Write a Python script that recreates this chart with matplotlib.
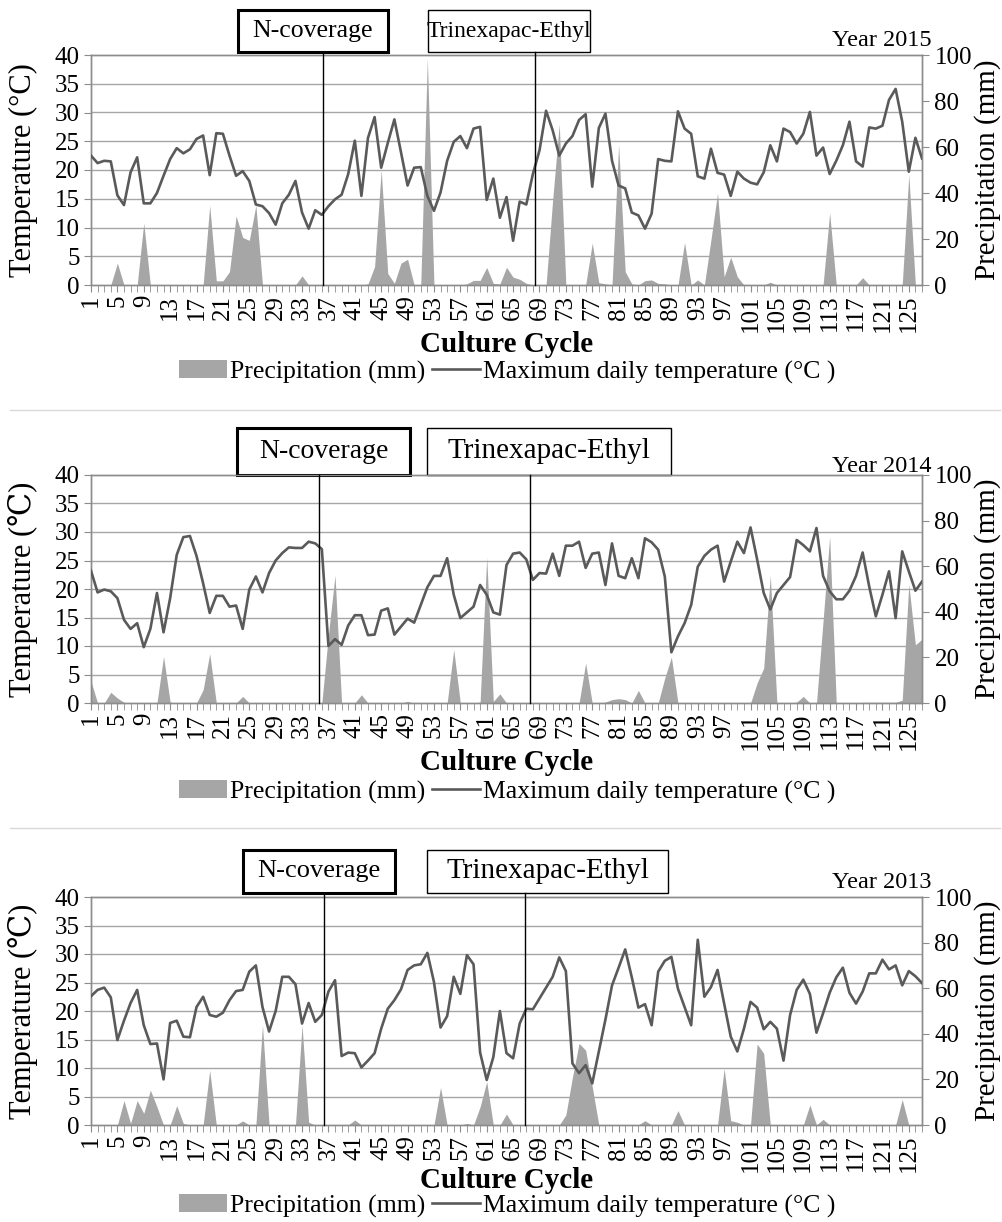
import matplotlib
matplotlib.use("Agg")
import matplotlib.pyplot as plt
import numpy as np
from matplotlib.lines import Line2D
from matplotlib.patches import Patch, Rectangle
from matplotlib.transforms import blended_transform_factory

plt.rcParams["font.family"] = ["Liberation Serif", "DejaVu Serif"]

DAYS = np.arange(1, 128)

# maximum daily temperature (degC), one value per day of the cycle
TEMP_2015 = [22.5, 21.2, 21.6, 21.5, 15.6, 13.9, 19.6, 22.2, 14.2, 14.2,
             16.0, 19.0, 21.9, 23.8, 22.9, 23.6, 25.4, 26.0, 19.1, 26.4,
             26.3, 22.5, 19.0, 19.8, 18.1, 14.0, 13.7, 12.5, 10.5, 14.2,
             15.7, 18.1, 12.6, 9.8, 13.0, 12.2, 13.7, 14.9, 15.7, 19.3,
             25.1, 15.5, 25.6, 29.2, 20.4, 24.7, 28.8, 23.1, 17.3, 20.4,
             20.5, 15.5, 12.9, 16.1, 21.6, 24.9, 25.9, 23.8, 27.2, 27.5,
             14.8, 18.5, 11.7, 15.3, 7.7, 14.5, 14.0, 19.3, 23.4, 30.3,
             26.9, 22.5, 24.6, 25.9, 28.7, 29.7, 17.1, 27.3, 29.8, 21.6,
             17.3, 16.8, 12.6, 12.1, 9.8, 12.4, 21.9, 21.6, 21.5, 30.2,
             27.2, 26.3, 18.9, 18.5, 23.7, 19.5, 19.2, 15.5, 19.7, 18.5,
             17.8, 17.5, 19.6, 24.3, 21.5, 27.2, 26.6, 24.6, 26.3, 30.1,
             22.5, 23.9, 19.3, 21.6, 24.3, 28.4, 21.5, 20.6, 27.4, 27.2,
             27.7, 32.2, 34.1, 28.4, 19.7, 25.6, 22.0]
TEMP_2014 = [23.2, 19.4, 19.9, 19.6, 18.4, 14.6, 13.0, 14.0, 9.8, 13.0,
             19.3, 12.4, 18.4, 26.0, 29.1, 29.3, 25.8, 21.0, 15.8, 18.8,
             18.8, 16.9, 17.1, 13.0, 19.9, 22.2, 19.4, 22.8, 25.0, 26.3,
             27.3, 27.2, 27.2, 28.3, 28.0, 27.0, 10.0, 11.2, 10.2, 13.6,
             15.4, 15.4, 11.9, 12.0, 16.2, 16.6, 12.0, 13.4, 14.8, 14.1,
             17.2, 20.3, 22.3, 22.3, 25.4, 19.0, 14.9, 15.9, 16.9, 20.7,
             19.0, 15.9, 15.5, 24.2, 26.2, 26.4, 25.2, 21.6, 22.8, 22.7,
             26.2, 22.3, 27.6, 27.6, 28.3, 23.7, 26.2, 26.4, 20.7, 28.0,
             22.3, 21.9, 25.4, 21.9, 28.9, 28.2, 26.9, 22.2, 8.9, 11.7,
             14.0, 17.2, 23.9, 25.8, 26.9, 27.6, 21.3, 24.8, 28.3, 26.3,
             30.8, 25.2, 19.3, 16.4, 19.3, 20.7, 22.1, 28.6, 27.7, 26.6,
             30.7, 22.3, 19.6, 18.2, 18.2, 19.7, 22.3, 26.4, 20.4, 15.2,
             19.0, 23.1, 14.9, 26.6, 23.1, 19.7, 21.3]
TEMP_2013 = [22.6, 23.7, 24.1, 22.4, 14.9, 18.3, 21.4, 23.7, 17.5, 14.2,
             14.3, 8.0, 17.9, 18.3, 15.5, 15.4, 20.7, 22.5, 19.3, 19.0,
             19.7, 21.9, 23.5, 23.7, 26.9, 28.0, 20.7, 16.4, 20.0, 26.0,
             26.0, 24.7, 17.8, 21.4, 18.1, 19.3, 23.4, 25.4, 12.1, 12.7,
             12.6, 10.1, 11.3, 12.6, 16.9, 20.4, 21.9, 23.8, 27.2, 28.0,
             28.2, 30.2, 25.1, 17.1, 19.1, 26.0, 23.0, 29.8, 28.2, 12.7,
             7.9, 11.9, 20.0, 12.6, 11.7, 17.8, 20.4, 20.3, 22.2, 24.1,
             26.0, 29.4, 27.0, 10.8, 9.1, 10.5, 7.3, 12.9, 18.5, 24.5,
             27.6, 30.8, 25.9, 20.6, 21.2, 17.5, 26.9, 28.8, 29.5, 23.9,
             20.7, 17.5, 32.5, 22.5, 24.2, 27.2, 21.3, 15.5, 12.9, 16.9,
             21.6, 20.6, 16.8, 18.1, 16.9, 11.3, 19.3, 23.7, 25.5, 23.0,
             16.2, 19.6, 23.2, 25.9, 27.6, 23.2, 21.3, 23.4, 26.6, 26.6,
             29.0, 27.3, 28.0, 24.5, 27.0, 26.1, 24.9]

# daily precipitation (mm)
RAIN_2015 = [0, 0, 0, 0, 9.5, 0, 0, 0, 27, 0,
             0, 0, 0, 0, 0, 0, 0, 0, 34.6, 1.8,
             1.8, 5.8, 30, 20.7, 19.4, 34.6, 0, 0, 0, 0,
             0, 0, 4, 0, 0, 0, 0, 0, 0, 0,
             0, 0, 0.5, 8, 50, 5, 0.7, 9.5, 11.2, 0,
             0, 98.5, 0, 0, 0, 0, 0, 0.5, 2, 2,
             7.6, 0.7, 0.5, 7.7, 3.4, 2.5, 0.7, 0, 0, 0,
             37, 70, 0, 0, 0, 0, 18.2, 1, 0.5, 0,
             61, 5.8, 0.5, 0, 1.9, 2.2, 0.7, 0.5, 0, 0,
             18.5, 0, 2.2, 0, 19.7, 40, 3.6, 12.1, 3.6, 0,
             0, 0, 0, 1.2, 0, 0, 0, 0, 0, 0,
             0, 0, 31.4, 0, 0, 0, 0, 3.2, 0, 0,
             0, 0, 0, 0, 48, 0, 0]
RAIN_2014 = [9.5, 0, 0, 4.7, 2.2, 0.3, 0, 0, 0, 0,
             0, 20.4, 0.4, 0, 0, 0, 0, 5.8, 21.6, 0,
             0, 0, 0, 2.9, 0, 0, 0, 0, 0, 0,
             0, 0, 0, 0, 0, 0, 30, 56, 0, 0,
             0, 3.6, 0, 0, 0, 0, 0, 0, 0.7, 0,
             0, 0, 0, 0, 0, 23.4, 0, 0, 0, 0.4,
             64, 0.7, 4, 0, 0, 0, 0, 0, 0, 0,
             0, 0, 0, 0, 0, 17.5, 0, 0, 0.4, 1.5,
             1.9, 1.5, 0, 5.5, 0, 0, 0, 11, 20.1, 0,
             0, 0, 0, 0, 0, 0, 0, 0, 0, 0,
             0, 8.8, 15.3, 56, 0, 0, 0, 0.4, 2.9, 0,
             0, 36, 73, 0, 0, 0, 0, 0.3, 0.3, 0.3,
             0.3, 0.3, 0.3, 1.2, 52, 25.5, 28]
RAIN_2013 = [0, 0, 0, 0, 0, 10.7, 0.7, 10.7, 5.1, 15.3,
             8, 0, 0, 8.5, 0.7, 0, 0, 0, 24, 0,
             0, 0, 0, 1.8, 0, 0, 43.8, 0, 0, 0,
             0, 0, 43.8, 1.2, 0, 0, 0, 0, 0, 0,
             2.2, 0, 0, 0, 0, 0, 0, 0, 0, 0,
             0, 0, 0, 16.5, 0, 0, 0, 0.7, 0, 8,
             19, 0, 0, 4.8, 0, 0, 0, 0, 0, 0,
             0, 0, 4.4, 21, 35.8, 32.8, 16.8, 0, 0, 0,
             0, 0, 0, 0, 1.9, 0, 0, 0, 0, 6.3,
             0, 0, 0, 0, 0, 0, 24.8, 1.9, 1.2, 0,
             0, 35.5, 31.4, 0, 0, 0, 0, 0, 0, 8.8,
             0, 2.5, 0, 0, 0, 0, 0, 0, 0, 0,
             0, 0, 0, 11.2, 0, 0, 0]

YEAR_LABELS = ["Year 2015", "Year 2014", "Year 2013"]
TEMP_LABELS = ["Temperature (\u00b0C)", "Temperature (\u2103)", "Temperature (\u2103)"]
N_COVERAGE_DAY = [36.2, 35.5, 36.4]
TRINEXAPAC_DAY = [68.3, 67.5, 66.8]

W, H = 1002, 1222
LINE_COLOR = "#5a5a5a"
AREA_COLOR = "#a6a6a6"
GRID_COLOR = "#a6a6a6"
AXIS_COLOR = "#8c8c8c"
TICK_FS = 18

# pixel layout of each panel: axes top/bottom, the two boxes, text rows, box font sizes
PANELS = [
    dict(axes=(55, 285), nbox=(238, 10, 388, 52), tbox=(428, 10, 590, 52),
         year_y=40, xlabel_y=345, legend_y=372, n_fs=18.5, t_fs=17),
    dict(axes=(475, 703), nbox=(237, 428, 410, 475), tbox=(427, 428, 671, 475),
         year_y=466, xlabel_y=763, legend_y=792, n_fs=20, t_fs=21),
    dict(axes=(897, 1125), nbox=(243, 850, 395, 893), tbox=(427, 850, 668, 893),
         year_y=883, xlabel_y=1180, legend_y=1206, n_fs=19, t_fs=21),
]


def fx(px):
    return px / W


def fy(py):
    return 1 - py / H


def add_box(fig, box, text, lw, size):
    x0, y0, x1, y1 = box
    fig.add_artist(Rectangle((fx(x0), fy(y1)), fx(x1) - fx(x0), (y1 - y0) / H,
                             transform=fig.transFigure, fill=False,
                             edgecolor="black", linewidth=lw))
    fig.text(fx((x0 + x1) / 2), fy((y0 + y1) / 2), text, ha="center", va="center",
             fontsize=size)


def draw_panel(fig, layout, temp, rain, year, temp_label, n_day, t_day):
    top, bottom = layout["axes"]
    height = bottom - top
    ax = fig.add_axes([fx(91), fy(bottom), fx(922) - fx(91), height / H])
    ax2 = ax.twinx()
    ax.set_zorder(ax2.get_zorder() + 1)
    ax.patch.set_visible(False)

    # precipitation area on the secondary axis, gridlines follow the 5 degC steps
    ax2.fill_between(DAYS, 0, rain, color=AREA_COLOR, linewidth=0, zorder=2)
    ax2.set_ylim(0, 100)
    ax2.set_yticks(np.arange(0, 101, 20))
    ax2.set_yticks(np.arange(0, 101, 12.5), minor=True)
    ax2.grid(which="minor", axis="y", color=GRID_COLOR, linewidth=1.0)
    ax2.set_axisbelow(True)
    ax2.tick_params(axis="y", which="minor", length=0)
    ax2.tick_params(axis="y", which="major", length=5, color=AXIS_COLOR,
                    labelsize=TICK_FS, pad=4)
    ax2.set_ylabel("Precipitation (mm)", fontsize=21, va="center")
    ax2.yaxis.set_label_coords((988 - 91) / 831, 0.5)

    ax.plot(DAYS, temp, color=LINE_COLOR, linewidth=1.9, zorder=3)
    ax.set_ylim(0, 40)
    ax.set_yticks(np.arange(0, 41, 5))
    ax.set_xlim(1, 127)
    ax.set_xticks(DAYS[::4])
    ax.set_xticklabels([str(d) for d in DAYS[::4]], rotation=90)
    ax.set_xticks(DAYS, minor=True)
    ax.tick_params(axis="x", which="both", length=5, color=AXIS_COLOR,
                   labelsize=TICK_FS, pad=2)
    ax.tick_params(axis="y", length=5, color=AXIS_COLOR, labelsize=TICK_FS, pad=3)
    ax.set_ylabel(temp_label, fontsize=22, va="center")
    ax.yaxis.set_label_coords((23 - 91) / 831, 0.5)
    ax.set_xlabel("Culture Cycle", fontsize=21, fontweight="bold", va="center")
    ax.xaxis.set_label_coords(0.5, -(layout["xlabel_y"] - bottom) / height)
    for axis in (ax, ax2):
        for spine in axis.spines.values():
            spine.set_color(AXIS_COLOR)
            spine.set_linewidth(1.0)

    # treatment markers: vertical lines reaching up to the label boxes
    reach = (bottom - layout["nbox"][3]) / height
    trans = blended_transform_factory(ax.transData, ax.transAxes)
    for day in (n_day, t_day):
        ax.plot([day, day], [0, reach], color="black", linewidth=1.0,
                transform=trans, clip_on=False, zorder=4)

    add_box(fig, layout["nbox"], "N-coverage", 2.2, layout["n_fs"])
    add_box(fig, layout["tbox"], "Trinexapac-Ethyl", 1.0, layout["t_fs"])
    fig.text(fx(932), fy(layout["year_y"]), year, ha="right", va="center", fontsize=17.5)

    handles = [Patch(facecolor=AREA_COLOR, edgecolor="none", label="Precipitation (mm)"),
               Line2D([], [], color=LINE_COLOR, linewidth=1.9,
                      label="Maximum daily temperature (\u00b0C )")]
    fig.legend(handles=handles, loc="center", bbox_to_anchor=(fx(507), fy(layout["legend_y"])),
               ncol=2, frameon=False, fontsize=18.5, handlelength=1.9, handletextpad=0.1,
               columnspacing=0.25, borderaxespad=0, borderpad=0)


fig = plt.figure(figsize=(W / 100, H / 100), dpi=100)
series = [(TEMP_2015, RAIN_2015), (TEMP_2014, RAIN_2014), (TEMP_2013, RAIN_2013)]
for i, (temp, rain) in enumerate(series):
    draw_panel(fig, PANELS[i], temp, rain, YEAR_LABELS[i], TEMP_LABELS[i],
               N_COVERAGE_DAY[i], TRINEXAPAC_DAY[i])

for sep_y in (410, 828):
    fig.add_artist(Line2D([0.01, 0.998], [fy(sep_y), fy(sep_y)], transform=fig.transFigure,
                          color="#d9d9d9", linewidth=1.0))

fig.savefig("out.png", dpi=100)
